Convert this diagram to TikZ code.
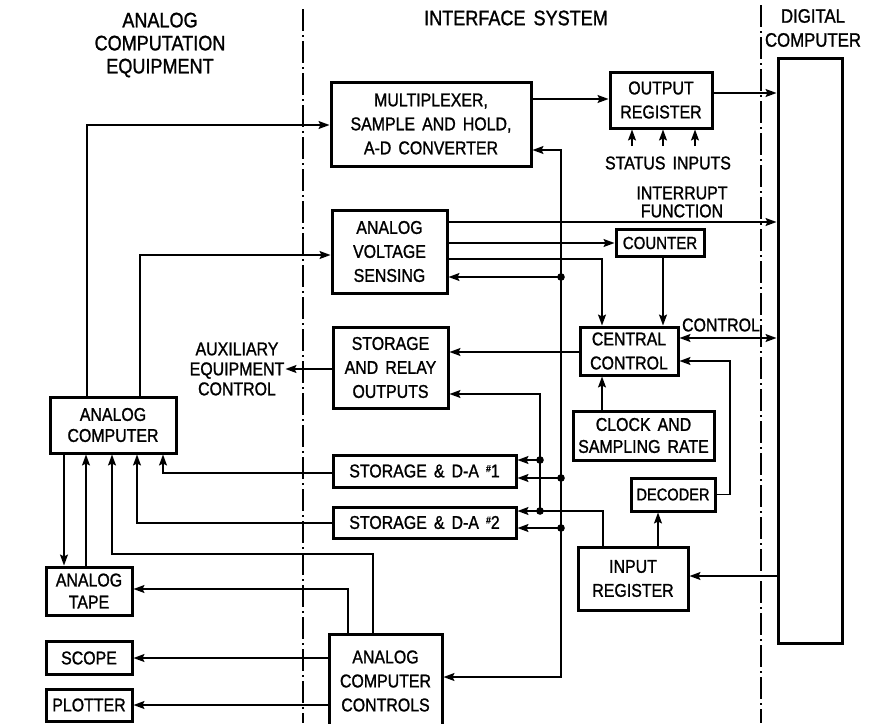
\documentclass[tikz,border=0pt]{standalone}
\usepackage{fontspec}
\setmainfont[FakeStretch=0.86,WordSpace=1.6,FakeBold=1.2]{Liberation Sans}
\usetikzlibrary{arrows.meta}
\begin{document}
\begin{tikzpicture}[x=1pt,y=-1pt,
  >={Stealth[length=11pt,width=8pt,inset=2pt]},
  box/.style={draw,line width=3pt,inner sep=0pt,align=center,font=\fontsize{18.5}{24}\selectfont},
  conn/.style={line width=1.6pt,->},
  wire/.style={line width=1.6pt},
  lbl/.style={inner sep=1pt,align=center,font=\fontsize{18.5}{20}\selectfont},
  head/.style={inner sep=0pt,align=center,font=\fontsize{21}{23}\selectfont},
  divider/.style={line width=1.5pt,dash pattern=on 22pt off 4pt on 2pt off 4pt}]
\path[use as bounding box,fill=white] (0,0) rectangle (872,723);
\newcommand{\numsign}{\raisebox{.55ex}{\fontsize{10}{10}\selectfont\#}}

% headings and dividers
\node[head] (hA) at (160,45) {ANALOG\\COMPUTATION\\EQUIPMENT};
\node[head] (hI) at (516,18) {INTERFACE SYSTEM};
\node[head,font=\fontsize{19.5}{24}\selectfont] (hD) at (813,28) {DIGITAL\\COMPUTER};
\draw[divider] (303,9) -- (303,723);
\draw[divider] (761,5) -- (761,723);

% boxes
\node[box,minimum width=200pt,minimum height=84pt] (mux) at (431,124) {MULTIPLEXER,\\SAMPLE AND HOLD,\\A-D CONVERTER};
\node[box,minimum width=102pt,minimum height=56pt] (outreg) at (661,100) {OUTPUT\\REGISTER};
\node[box,minimum width=64pt,minimum height=585pt] (dc) at (810,350.5) {};
\node[box,minimum width=115pt,minimum height=83pt] (avs) at (389.5,251.5) {ANALOG\\VOLTAGE\\SENSING};
\node[box,minimum width=88pt,minimum height=27pt,font=\fontsize{17.5}{24}\selectfont] (counter) at (660,243) {COUNTER};
\node[box,minimum width=98pt,minimum height=48pt] (cc) at (629,351) {CENTRAL\\CONTROL};
\node[box,minimum width=115pt,minimum height=81pt] (sr) at (390.5,367.5) {STORAGE\\AND RELAY\\OUTPUTS};
\node[box,minimum width=141pt,minimum height=49pt,font=\fontsize{18.5}{22}\selectfont] (clock) at (643.5,435.5) {CLOCK AND\\SAMPLING RATE};
\node[box,minimum width=84pt,minimum height=33pt,font=\fontsize{17}{24}\selectfont] (dec) at (673,494.5) {DECODER};
\node[box,minimum width=183pt,minimum height=32pt] (da1) at (424.5,471) {STORAGE \& D-A \numsign1};
\node[box,minimum width=183pt,minimum height=31pt] (da2) at (424.5,522.5) {STORAGE \& D-A \numsign2};
\node[box,minimum width=110pt,minimum height=63pt] (ir) at (633,578.5) {INPUT\\REGISTER};
\node[box,minimum width=126pt,minimum height=56pt,font=\fontsize{18.5}{21}\selectfont] (ac) at (113,425) {ANALOG\\COMPUTER};
\node[box,minimum width=86pt,minimum height=48pt,font=\fontsize{18.5}{22}\selectfont] (tape) at (89,591) {ANALOG\\TAPE};
\node[box,minimum width=86pt,minimum height=33pt] (scope) at (89,658) {SCOPE};
\node[box,minimum width=86pt,minimum height=32pt] (plotter) at (89,705) {PLOTTER};
\node[box,minimum width=113pt,minimum height=94pt] (acc) at (385.5,681) {ANALOG\\COMPUTER\\CONTROLS};

% labels
\node[lbl] (st) at (668,163) {STATUS INPUTS};
\node[lbl,font=\fontsize{18.5}{18}\selectfont] (intr) at (682,202) {INTERRUPT\\FUNCTION};
\node[lbl] (ctl) at (721,325) {CONTROL};
\node[lbl] (aux) at (237,369) {AUXILIARY\\EQUIPMENT\\CONTROL};

% bend points and junctions
\coordinate (c1) at (87,125);
\coordinate (c2) at (140,255);
\coordinate (c3) at (570,99);
\coordinate (c4) at (740,93);
\coordinate (s1) at (632,146);
\coordinate (s2) at (663,146);
\coordinate (s3) at (695,146);
\coordinate (c6) at (700,222);
\coordinate (c8) at (602,259);
\coordinate (c9) at (663,300);
\coordinate (c10) at (700,338);
\coordinate (c11) at (500,352);
\coordinate (c13) at (730,361);
\coordinate (c14) at (658,530);
\coordinate (c15) at (740,576);
\coordinate (c16) at (603,511);
\coordinate (c17) at (540,394);
\coordinate (c18) at (561,150);
\coordinate (c19) at (561,677);
\coordinate (c20) at (163,473);
\coordinate (c21) at (137,523);
\coordinate (c22) at (373,554);
\coordinate (c22b) at (112,554);
\coordinate (c23) at (86,540);
\coordinate (c24) at (64,540);
\coordinate (c25) at (348,589);
\coordinate (j1) at (540,460);
\coordinate (j2) at (540,511);
\coordinate (j3) at (561,277);
\coordinate (j4) at (561,478);
\coordinate (j5) at (561,528);

% connectors
\draw[conn] (ac.north -| c1) |- (mux.west |- c1);
\draw[conn] (ac.north -| c2) |- (avs.west |- c2);
\draw[conn] (mux.east |- c3) -- (outreg.west |- c3);
\draw[conn] (outreg.east |- c4) -- (dc.west |- c4);
\draw[conn] (s1) -- (outreg.south -| s1);
\draw[conn] (s2) -- (outreg.south -| s2);
\draw[conn] (s3) -- (outreg.south -| s3);
\draw[conn] (avs.east |- c6) -- (dc.west |- c6);
\draw[conn] (avs.east |- counter.west) -- (counter.west);
\draw[conn] (avs.east |- c8) -| (cc.north -| c8);
\draw[conn] (counter.south -| c9) -- (cc.north -| c9);
\draw[wire,<->] (cc.east |- c10) -- (dc.west |- c10);
\draw[conn] (cc.west |- c11) -- (sr.east |- c11);
\draw[conn] (clock.north -| c8) -- (cc.south -| c8);
\draw[conn] (dec.east) -| (c13) -- (cc.east |- c13);
\draw[conn] (ir.north -| c14) -- (dec.south -| c14);
\draw[conn] (dc.west |- c15) -- (ir.east |- c15);
\draw[conn] (ir.north -| c16) -- (c16) -- (j2) -- (da2.east |- j2);
\draw[conn] (j2) -- (j1) -- (da1.east |- j1);
\draw[conn] (j1) |- (sr.east |- c17);
\draw[conn] (j3) |- (mux.east |- c18);
\draw[conn] (j3) -- (avs.east |- j3);
\draw[wire] (j3) -- (j4);
\draw[conn] (j4) -- (da1.east |- j4);
\draw[wire] (j4) -- (j5);
\draw[conn] (j5) -- (da2.east |- j5);
\draw[conn] (j5) |- (acc.east |- c19);
\draw[conn] (sr.west |- aux) -- (aux.east);
\draw[conn] (da1.west |- c20) -| (ac.south -| c20);
\draw[conn] (da2.west |- c21) -| (ac.south -| c21);
\draw[conn] (acc.north -| c22) -- (c22) -| (ac.south -| c22b);
\draw[conn] (tape.north -| c23) -- (ac.south -| c23);
\draw[conn] (ac.south -| c24) -- (tape.north -| c24);
\draw[conn] (acc.north -| c25) |- (tape.east |- c25);
\draw[conn] (acc.west |- scope) -- (scope.east);
\draw[conn] (acc.west |- plotter) -- (plotter.east);

% junction dots
\foreach \j in {j1,j2,j3,j4,j5} \fill (\j) circle (3.8pt);
\end{tikzpicture}
\end{document}
